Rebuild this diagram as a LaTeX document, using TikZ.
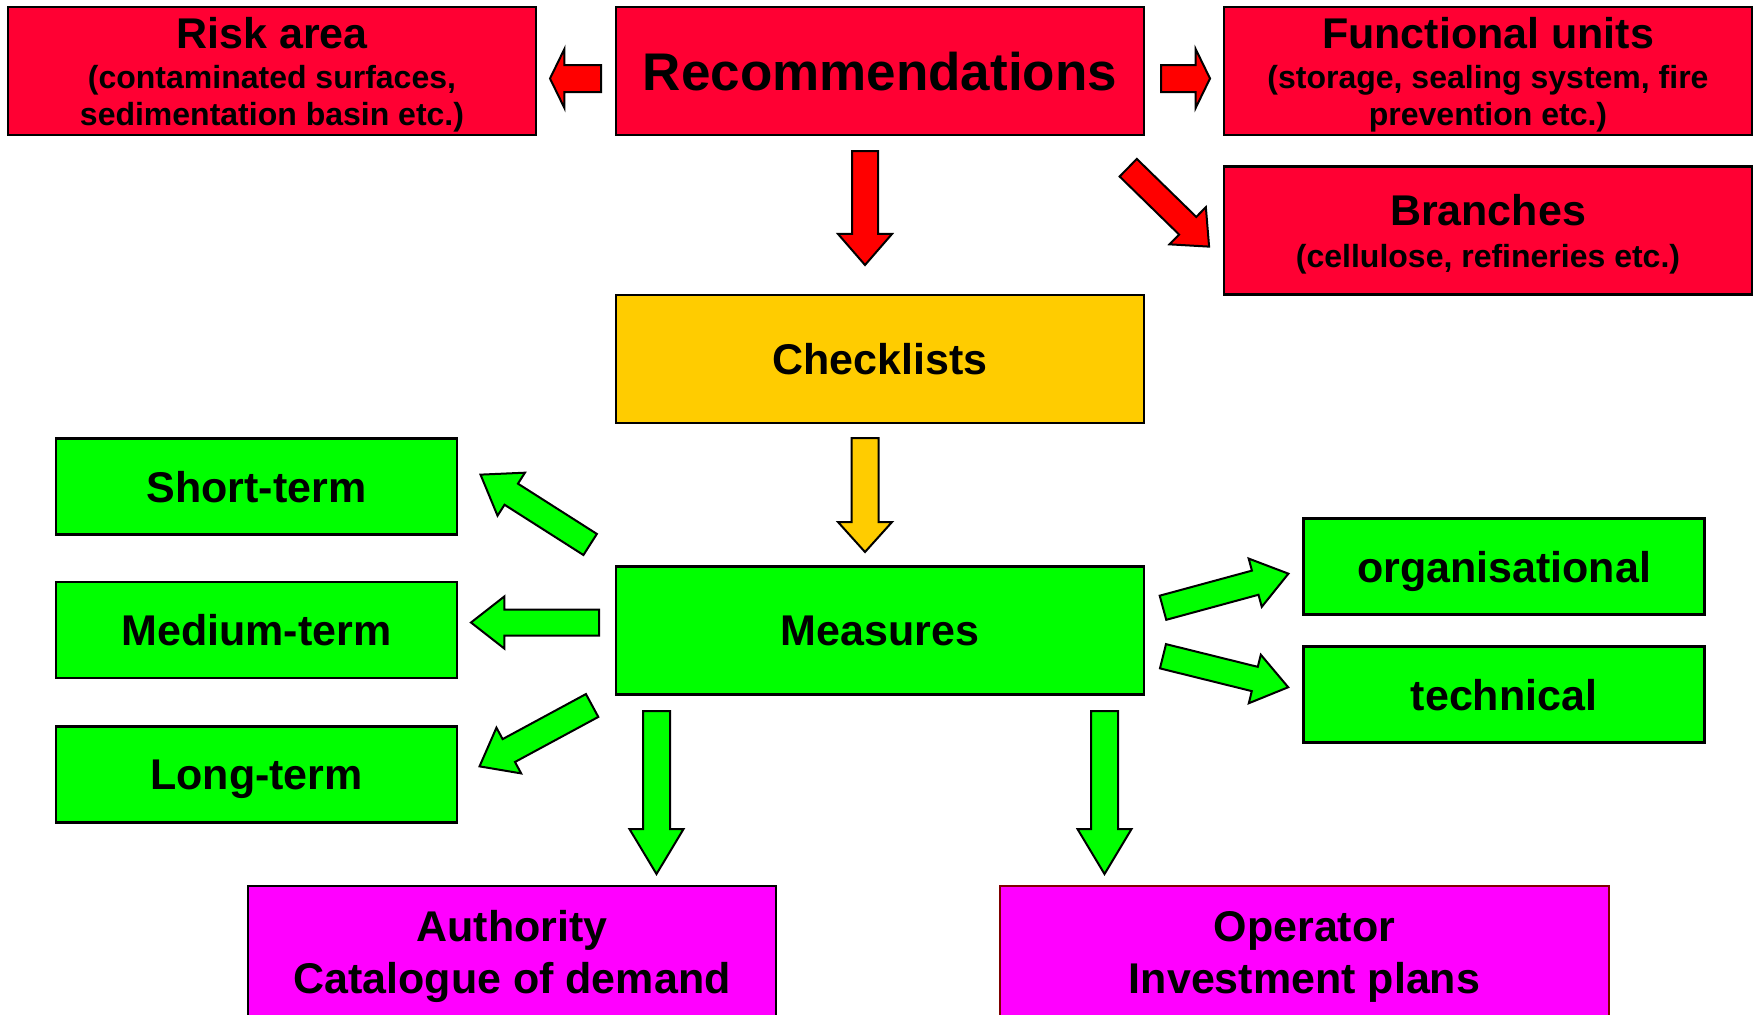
\documentclass[tikz,border=0pt]{standalone}
\usepackage{fontspec}
\setmainfont{Liberation Sans}
\usetikzlibrary{shapes.arrows}

\definecolor{boxred}{RGB}{255,0,51}
\definecolor{arrowred}{RGB}{255,0,0}
\definecolor{checkyellow}{RGB}{255,204,0}
\definecolor{measgreen}{RGB}{0,255,0}
\definecolor{planmagenta}{RGB}{255,0,255}
\definecolor{operborder}{RGB}{128,0,0}

\newcommand{\boxtitle}{\fontsize{21.5}{26}\selectfont}
\newcommand{\boxsub}{\fontsize{16}{18.5}\selectfont}

\tikzset{
  box/.style={draw=black, line width=1.2pt, align=center, inner sep=0pt,
    text depth=0pt, font=\bfseries\boxtitle},
  bigbox/.style={box, minimum width=264pt, minimum height=64pt},
  subbox/.style={bigbox, font=\bfseries\boxsub},
  smallbox/.style={box, minimum width=200.5pt, minimum height=48pt},
  blockarrow/.style={single arrow, draw=black, line width=1pt, inner xsep=0pt,
    inner ysep=6pt, anchor=tail, single arrow head indent=0pt,
    single arrow head extend=6.5pt, single arrow tip angle=76},
}

\begin{document}
\begin{tikzpicture}[x=0.5pt, y=-0.5pt]
	\useasboundingbox (0,0) rectangle (1759,1014);
	\clip (0,0) rectangle (1759,1014);

	% top row
	\node[bigbox, fill=boxred, font=\bfseries\fontsize{26.5}{30}\selectfont] (rec) at (880,71) {Recommendations};
	\node[subbox, fill=boxred] (risk) at (272,71) {\boxtitle Risk area\\[1.5pt]
		\boxsub (contaminated surfaces,\\ \boxsub sedimentation basin etc.)};
	\node[subbox, fill=boxred] (func) at (1488,71) {\boxtitle Functional units\\[1.5pt]
		\boxsub (storage, sealing system, fire\\ \boxsub prevention etc.)};
	\node[subbox, fill=boxred] (branch) at (1488,230.5) {\boxtitle Branches\\[2.5pt]
		\boxsub (cellulose, refineries etc.)};

	% middle
	\node[bigbox, fill=checkyellow] (check) at (880,359) {Checklists};
	\node[bigbox, fill=measgreen] (meas) at (880,630.5) {Measures};

	\node[smallbox, fill=measgreen] (short) at (256.5,486.5) {Short-term};
	\node[smallbox, fill=measgreen] (medium) at (256.5,630) {Medium-term};
	\node[smallbox, fill=measgreen] (long) at (256.5,774.5) {Long-term};
	\node[smallbox, fill=measgreen] (org) at (1504,566.5) {organisational};
	\node[smallbox, fill=measgreen] (tech) at (1504,694.5) {technical};

	% bottom
	\node[bigbox, fill=planmagenta, minimum height=66pt, line width=1pt] (auth) at (512,952) {Authority\\ Catalogue of demand};
	\node[bigbox, fill=planmagenta, minimum width=304.5pt, minimum height=66pt, draw=operborder, line width=0.8pt] (oper) at (1304.5,952) {Operator\\ Investment plans};

	% arrows (placed at their tails)
	\node[blockarrow, fill=arrowred, rotate=180, minimum height=25.5pt, inner ysep=6.25pt, single arrow head extend=8pt, single arrow tip angle=128] (torisk) at (602,78.5) {};
	\node[blockarrow, fill=arrowred, minimum height=24.5pt, inner ysep=6.25pt, single arrow head extend=8pt, single arrow tip angle=128] (tofunc) at (1160,78.5) {};
	\node[blockarrow, fill=arrowred, rotate=-90, minimum height=57pt, inner ysep=6pt, single arrow head extend=7pt, single arrow tip angle=82] (tocheck) at (865,150) {};
	\node[blockarrow, fill=arrowred, rotate=-44.3, minimum height=56.5pt, inner ysep=5.65pt, single arrow head extend=6.85pt, single arrow tip angle=82] (tobranch) at (1127.5,167) {};
	\node[blockarrow, fill=checkyellow, rotate=-90, minimum height=57pt, inner ysep=6.25pt, single arrow head extend=6.75pt, single arrow tip angle=84] (tomeas) at (865,437) {};

	\node[blockarrow, fill=measgreen, rotate=147.5, minimum height=65pt, inner ysep=5.75pt, single arrow tip angle=70] (toshort) at (591,545) {};
	\node[blockarrow, fill=measgreen, rotate=180, minimum height=64pt] (tomedium) at (600,622.5) {};
	\node[blockarrow, fill=measgreen, rotate=208.4, minimum height=64pt] (tolong) at (593,705) {};
	\node[blockarrow, fill=measgreen, rotate=15.2, minimum height=65pt, inner ysep=5.75pt, single arrow head extend=6.25pt, single arrow tip angle=72] (toorg) at (1162,608) {};
	\node[blockarrow, fill=measgreen, rotate=-13.9, minimum height=64.5pt, inner ysep=5.75pt, single arrow head extend=6.25pt, single arrow tip angle=72] (totech) at (1162,656) {};
	\node[blockarrow, fill=measgreen, rotate=-90, minimum height=81.5pt, inner ysep=6.25pt, single arrow head extend=6.75pt, single arrow tip angle=62] (toauth) at (656.5,710) {};
	\node[blockarrow, fill=measgreen, rotate=-90, minimum height=81.5pt, inner ysep=6.25pt, single arrow head extend=6.75pt, single arrow tip angle=62] (tooper) at (1104.5,710) {};
\end{tikzpicture}
\end{document}
